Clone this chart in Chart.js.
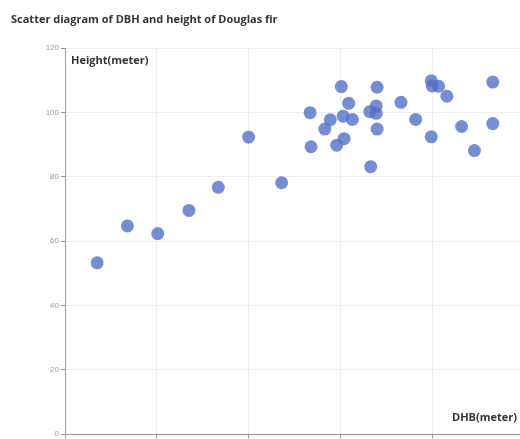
<!DOCTYPE html>
<html>
<head>
<meta charset="utf-8">
<script src="https://cdn.jsdelivr.net/npm/chart.js@4/dist/chart.umd.min.js"></script>
<style>
  html, body { margin: 0; padding: 0; overflow: hidden; background: #fff; }
  canvas { display: block; }
</style>
</head>
<body>
<canvas id="firChart" width="540" height="470"></canvas>
<script>
// DBH values (x) and heights (y)
const dbh = [3.5, 6.8, 10.1, 13.5, 16.7, 20.0, 23.6,
  30.1, 34.0, 30.9, 36.6, 39.9, 40.0, 40.7, 41.6, 46.6,
  26.7, 28.9, 30.3, 31.3, 28.3, 33.2, 33.9, 33.9, 34.0,
  38.2, 30.4, 29.6, 26.8, 39.9, 43.2, 46.6, 44.6, 33.3];
const height = [53.2, 64.7, 62.3, 69.5, 76.7, 92.3, 78.1,
  108.0, 107.8, 102.8, 103.1, 109.8, 108.2, 108.1, 105.0, 109.4,
  99.9, 97.7, 98.8, 97.8, 94.8, 100.2, 102.0, 99.7, 94.8,
  97.8, 91.8, 89.8, 89.3, 92.4, 95.6, 96.5, 88.1, 83.1];
const xTicks = [0, 10, 20, 30, 40, 50];
const yTicks = [0, 20, 40, 60, 80, 100, 120];

const titleText = "Scatter diagram of DBH and height of Douglas fir";
const yName = "Height(meter)";
const xName = "DHB(meter)";

const points = dbh.map((x, i) => ({ x: x, y: height[i] }));

// titles and axis names are drawn as plain text, echarts style
const textPlugin = {
  id: "textPlugin",
  afterDraw(chart) {
    const ctx = chart.ctx;
    const area = chart.chartArea;
    ctx.save();
    ctx.fillStyle = "#333";
    ctx.textBaseline = "middle";
    ctx.font = "bold 11px 'Open Sans', 'DejaVu Sans', sans-serif";
    ctx.textAlign = "left";
    ctx.fillText(titleText, 11, 20);
    ctx.fillText(yName, area.left + 6, 61);
    ctx.textAlign = "right";
    ctx.fillText(xName, 517, 418);
    ctx.restore();
  },
};

const canvas = document.getElementById("firChart");
const ctx = canvas.getContext("2d");

new Chart(ctx, {
  type: "scatter",
  data: {
    datasets: [
      {
        data: points,
        backgroundColor: "rgba(84, 112, 198, 0.8)",
        borderWidth: 0,
        pointRadius: 6.5,
        pointHoverRadius: 6.5,
      },
    ],
  },
  options: {
    responsive: false,
    animation: false,
    layout: { padding: { top: 48, right: 16, left: 0, bottom: 0 } },
    plugins: {
      legend: { display: false },
      tooltip: { enabled: false },
    },
    scales: {
      x: {
        type: "linear",
        min: xTicks[0],
        max: xTicks[xTicks.length - 1],
        afterBuildTicks: (axis) => {
          axis.ticks = xTicks.map((v) => ({ value: v }));
        },
        afterFit: (axis) => {
          axis.height = 36;
        },
        border: { color: "#999", width: 1 },
        grid: { color: "#eee", tickColor: "#999", tickLength: 4 },
        ticks: { color: "#999", font: { size: 8 }, padding: 3 },
      },
      y: {
        min: yTicks[0],
        max: yTicks[yTicks.length - 1],
        afterBuildTicks: (axis) => {
          axis.ticks = yTicks.map((v) => ({ value: v }));
        },
        afterFit: (axis) => {
          axis.width = 65;
        },
        border: { color: "#999", width: 1 },
        grid: { color: "#eee", tickColor: "#999", tickLength: 4 },
        ticks: { color: "#999", font: { size: 8 }, padding: 2 },
      },
    },
  },
  plugins: [textPlugin],
});
</script>
</body>
</html>
